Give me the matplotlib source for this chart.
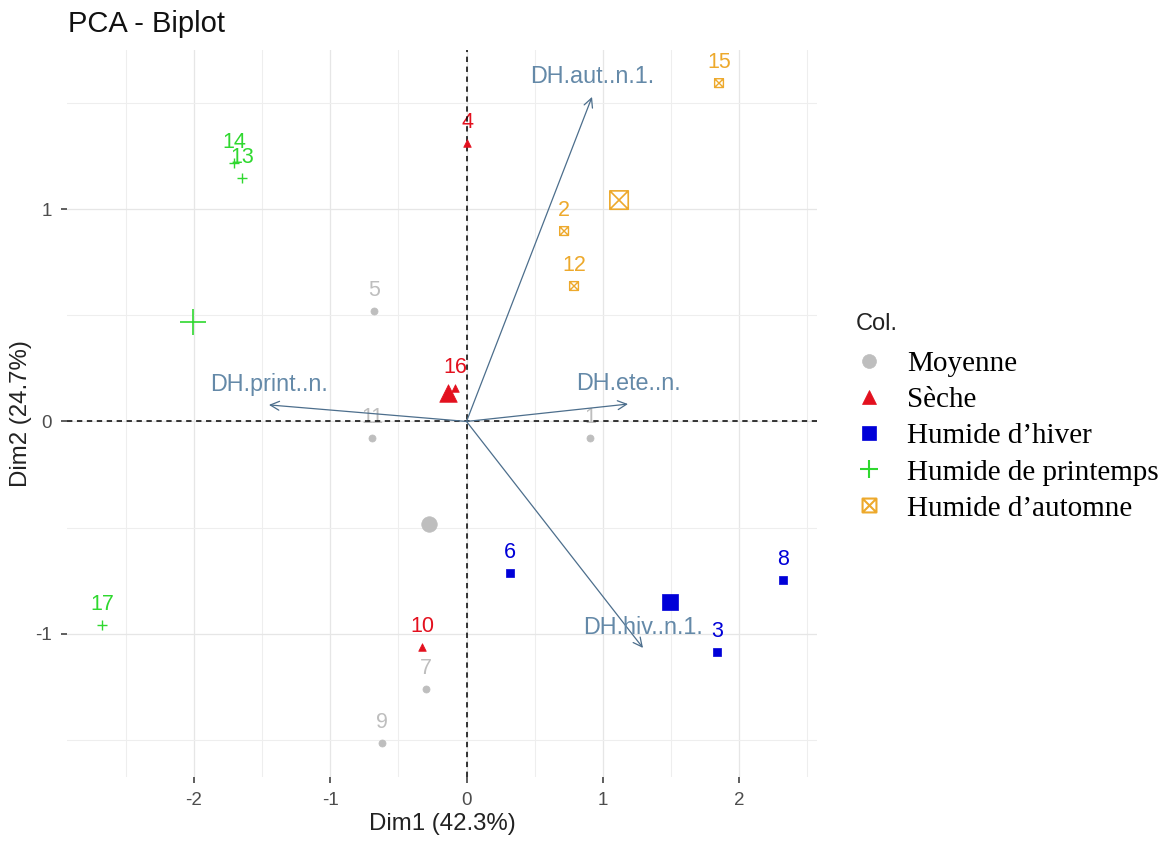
import numpy as np
import matplotlib
matplotlib.use('Agg')
import matplotlib.pyplot as plt
from matplotlib.lines import Line2D
from matplotlib.path import Path
from matplotlib.ticker import MultipleLocator

plt.rcParams['font.family'] = ['Liberation Sans', 'DejaVu Sans']
plt.rcParams['axes.unicode_minus'] = False

# individuals (coordinates)
ind_names = ['1', '2', '3', '4', '5', '6', '7', '8', '9', '10',
             '11', '12', '13', '14', '15', '16', '17']
ind_x = [0.906, 0.716, 1.839, 0.004, -0.679, 0.319, -0.297, 2.323, -0.620, -0.327,
         -0.694, 0.789, -1.648, -1.706, 1.853, -0.084, -2.675]
ind_y = [-0.078, 0.897, -1.085, 1.312, 0.520, -0.714, -1.260, -0.747, -1.513, -1.062,
         -0.078, 0.638, 1.147, 1.218, 1.594, 0.158, -0.959]
ind_group = ['Moyenne', 'Humide d’automne', 'Humide d’hiver', 'Sèche', 'Moyenne',
             'Humide d’hiver', 'Moyenne', 'Humide d’hiver', 'Moyenne', 'Sèche',
             'Moyenne', 'Humide d’automne', 'Humide de printemps', 'Humide de printemps',
             'Humide d’automne', 'Sèche', 'Humide de printemps']

# variables
var_names = ['DH.aut..n.1.', 'DH.ete..n.', 'DH.print..n.', 'DH.hiv..n.1.']
var_x = [0.921, 1.185, -1.450, 1.295]
var_y = [1.529, 0.082, 0.078, -1.067]

groups = ['Moyenne', 'Sèche', 'Humide d’hiver', 'Humide de printemps', 'Humide d’automne']
group_colors = ['#BEBEBE', '#E3101E', '#0000D8', '#2FD82F', '#EDA92C']

# square with a cross inside (ggplot shape 7)
sqx = Path([(-1, -1), (1, -1), (1, 1), (-1, 1), (-1, -1), (-1, -1), (1, 1), (-1, 1), (1, -1)],
           [Path.MOVETO, Path.LINETO, Path.LINETO, Path.LINETO, Path.CLOSEPOLY,
            Path.MOVETO, Path.LINETO, Path.MOVETO, Path.LINETO])
group_markers = ['o', '^', 's', '+', sqx]
small_sizes = [26, 30, 36, 60, 40]
big_sizes = [125, 160, 135, 330, 175]

fig = plt.figure(figsize=(11.73, 8.43), dpi=100)
ax = fig.add_axes([0.0571, 0.0783, 0.6394, 0.8624])

ax.set_xlim(-2.932, 2.572)
ax.set_ylim(-1.675, 1.75)

ax.xaxis.set_major_locator(MultipleLocator(1))
ax.yaxis.set_major_locator(MultipleLocator(1))
ax.xaxis.set_minor_locator(MultipleLocator(0.5))
ax.yaxis.set_minor_locator(MultipleLocator(0.5))
ax.grid(which='major', color='#E6E6E6', lw=0.9, zorder=0)
ax.grid(which='minor', color='#EEEEEE', lw=0.8, zorder=0)
ax.set_axisbelow(True)
for s in ax.spines.values():
    s.set_visible(False)
ax.tick_params(which='major', length=4, width=1.1, color='#333333',
               labelsize=13.5, labelcolor='#4D4D4D', pad=7)
ax.tick_params(which='minor', length=0)

ind_x = np.array(ind_x)
ind_y = np.array(ind_y)
ind_group = np.array(ind_group)

handles = []
for g, c, m, ss, bs in zip(groups, group_colors, group_markers, small_sizes, big_sizes):
    sel = ind_group == g
    fc = 'none' if m is sqx else c
    ax.scatter(ind_x[sel], ind_y[sel], s=ss, marker=m,
               facecolors=fc, edgecolors=c, linewidths=1.0 if m in ('+', sqx) else 0.5, zorder=4)
    ax.scatter(ind_x[sel].mean(), ind_y[sel].mean(), s=bs, marker=m,
               facecolors=fc, edgecolors=c, linewidths=1.2 if m in ('+', sqx) else 0.5, zorder=4)
    for name, x, y in zip(np.array(ind_names)[sel], ind_x[sel], ind_y[sel]):
        ax.annotate(name, (x, y), xytext=(0, 14.5), textcoords='offset points',
                    ha='center', va='center', fontsize=15.5, color=c, zorder=2)
    handles.append(Line2D([], [], ls='none', marker=m, markersize=10 if m != '+' else 13,
                          markerfacecolor=fc, markeredgecolor=c,
                          markeredgewidth=1.5 if m in ('+', sqx) else 0.5))

ax.axhline(0, color='black', lw=1.1, ls=(0, (3.5, 3)), zorder=3)
ax.axvline(0, color='black', lw=1.1, ls=(0, (3.5, 3)), zorder=3)

for name, x, y in zip(var_names, var_x, var_y):
    ax.annotate('', xy=(x, y), xytext=(0, 0),
                arrowprops=dict(arrowstyle='->', color='#4C6E8C', lw=0.9,
                                mutation_scale=16, shrinkA=0, shrinkB=0), zorder=5)
    ax.annotate(name, (x, y), xytext=(0, 14.5), textcoords='offset points',
                ha='center', va='center', fontsize=16.8, color='#6489A8', zorder=5)

ax.set_xlabel('Dim1 (42.3%)', fontsize=17.3, color='#222222', labelpad=3)
ax.set_ylabel('Dim2 (24.7%)', fontsize=17.3, color='#222222')
ax.yaxis.set_label_coords(-0.047, 0.5)
fig.text(68 / 1173, 1 - 24 / 843, 'PCA - Biplot', fontsize=21, color='#111111',
         ha='left', va='center')

leg = fig.legend(handles, groups, loc='upper left', bbox_to_anchor=(856 / 1173, 1 - 313 / 843),
                 frameon=False, title='Col.', alignment='left',
                 prop={'family': 'Liberation Serif', 'size': 21},
                 title_fontproperties={'family': 'Liberation Sans', 'size': 17},
                 handlelength=0.9, handletextpad=0.85, labelspacing=0.33,
                 borderpad=0, borderaxespad=0)
leg.get_title().set_color('#222222')
leg._legend_box.sep = 11.5  # extra gap under the legend title

fig.savefig('out.png', dpi=100)
